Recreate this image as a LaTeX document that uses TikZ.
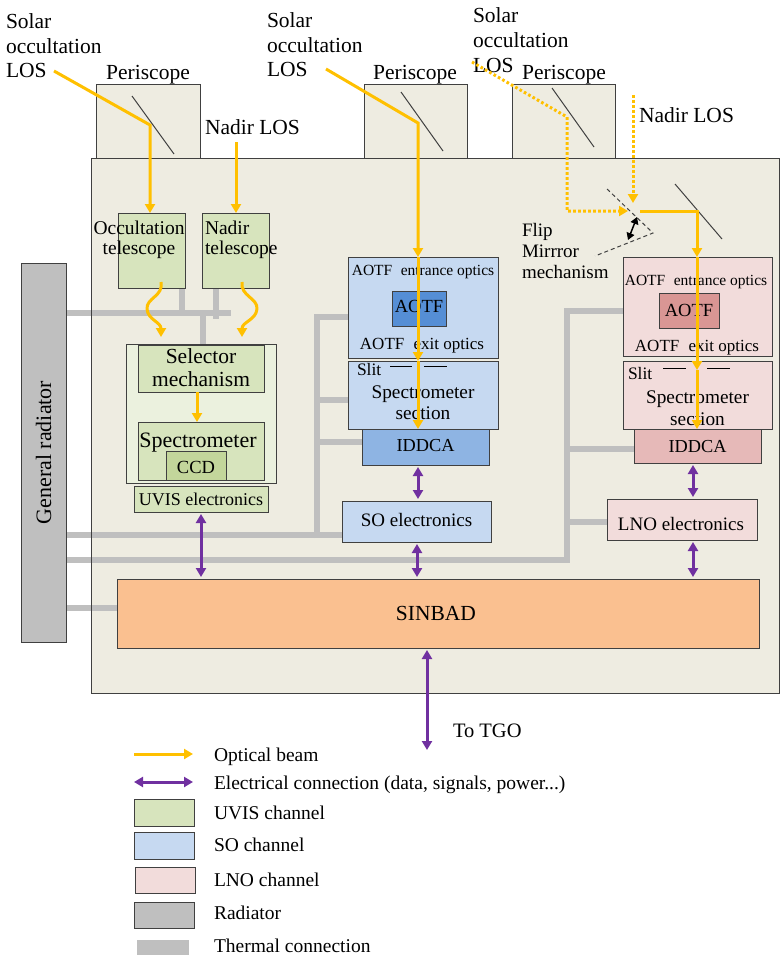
\documentclass[tikz,border=0pt]{standalone}
\usepackage{fontspec}
\setmainfont{Liberation Serif}
\usetikzlibrary{arrows.meta,calc}
\pgfdeclarelayer{back}
\pgfdeclarelayer{therm}
\pgfsetlayers{back,therm,main}
\definecolor{bgc}{HTML}{EEECE1}
\definecolor{uvisc}{HTML}{D7E4BD}
\definecolor{uvisl}{HTML}{EBF1DE}
\definecolor{uvisd}{HTML}{C3D69B}
\definecolor{soc}{HTML}{C6D9F1}
\definecolor{sod}{HTML}{558ED5}
\definecolor{som}{HTML}{8EB4E3}
\definecolor{lnoc}{HTML}{F2DCDB}
\definecolor{lnod}{HTML}{D99694}
\definecolor{lnom}{HTML}{E6B9B8}
\definecolor{sinc}{HTML}{FAC090}
\definecolor{radc}{HTML}{BFBFBF}
\definecolor{optc}{HTML}{FFC000}
\definecolor{elc}{HTML}{7030A0}
\definecolor{edgec}{HTML}{404040}
\newcommand\mylines[2][l]{\begin{tabular}[t]{@{}#1@{}}#2\end{tabular}}
\begin{document}
\begin{tikzpicture}[x=1pt,y=-1pt,
  box/.style={draw=edgec, line width=0.9pt, anchor=north west, inner sep=0pt, outer sep=0pt},
  txt/.style={inner sep=0pt, outer sep=0pt, text=black},
  fs/.style 2 args={font=\fontsize{#1}{#2}\selectfont},
  thermal/.style={draw=radc, line width=6.5pt, line join=miter},
  beam/.style={draw=optc, line width=3pt, line join=miter, -{Triangle[width=10pt,length=9pt]}},
  dbeam/.style={beam, dash pattern=on 2.6pt off 2.4pt},
  elec/.style={draw=elc, line width=3pt, {Triangle[width=10pt,length=9pt]}-{Triangle[width=10pt,length=9pt]}, shorten <=2pt, shorten >=2pt},
  mirror/.style={draw=edgec, line width=1pt},
  fdash/.style={draw=edgec, line width=1pt, dash pattern=on 4pt off 3pt},
  slitline/.style={draw=black, line width=1pt}
]
\useasboundingbox (0,0) rectangle (780,955);

% ---------- background layer: periscopes and instrument body ----------
\begin{pgfonlayer}{back}
\node[box, fill=bgc, minimum width=104, minimum height=75] (per1) at (96,84) {};
\node[box, fill=bgc, minimum width=103, minimum height=75] (per2) at (364,84) {};
\node[box, fill=bgc, minimum width=103, minimum height=75] (per3) at (512,84) {};
\node[box, draw=none, fill=bgc, minimum width=688.5, minimum height=535] (main) at (91,158) {};
\end{pgfonlayer}
\draw[edgec, line width=0.9pt] (main.north west) rectangle (main.south east);

% ---------- radiator ----------
\node[box, fill=radc, minimum width=45, minimum height=379] (rad) at (21,263) {};
\node[txt, fs={22}{25}, rotate=90] (radtxt) at (rad.center) {General radiator};

% ---------- UVIS ----------
\node[box, fill=uvisc, minimum width=67, minimum height=75] (occ) at (118,213) {};
\node[box, fill=uvisc, minimum width=67, minimum height=75] (nad) at (202,213) {};
\node[box, fill=uvisl, minimum width=150, minimum height=139] (uvis) at (126,344) {};
\node[box, fill=uvisc, minimum width=126, minimum height=47] (sel) at (138,345) {};
\node[box, fill=uvisc, minimum width=126, minimum height=58] (uspec) at (138,422) {};
\node[box, fill=uvisd, minimum width=60, minimum height=29] (ccd) at (166,451) {};
\node[box, fill=uvisc, minimum width=134, minimum height=26] (uvel) at (134,486) {};

% ---------- SO ----------
\node[box, fill=soc, minimum width=150, minimum height=101] (soaotf) at (348,257) {};
\node[box, fill=sod, minimum width=54, minimum height=35] (soaotfin) at (392,291) {};
\node[box, fill=soc, minimum width=150, minimum height=68] (sospec) at (348,361) {};
\node[box, fill=som, minimum width=127, minimum height=36] (soidd) at (362,429) {};
\node[box, fill=soc, minimum width=149, minimum height=41] (soel) at (342,501) {};

% ---------- LNO ----------
\node[box, fill=lnoc, minimum width=149, minimum height=99] (lnoaotf) at (623,257) {};
\node[box, fill=lnod, minimum width=60, minimum height=35] (lnoaotfin) at (659,293) {};
\node[box, fill=lnoc, minimum width=149, minimum height=68] (lnospec) at (623,361) {};
\node[box, fill=lnom, minimum width=127, minimum height=34] (lnoidd) at (634,429) {};
\node[box, fill=lnoc, minimum width=150, minimum height=41] (lnoel) at (607,499) {};

% ---------- SINBAD ----------
\node[box, fill=sinc, minimum width=642, minimum height=69] (sinbad) at (117,579) {};

% ---------- thermal connections ----------
\begin{pgfonlayer}{therm}
\draw[thermal] (rad.east |- 0,313) -- (231,313);
\draw[thermal] (occ.south -| 182,0) -- (182,316);
\draw[thermal] (nad.south -| 216,0) -- (216,319);
\draw[thermal] (203,313) -- (uvis.north -| 203,0);
\draw[thermal] (rad.east |- 0,535) -- (soel.west |- 0,535);
\draw[thermal] (317,538) -- (317,317) -- (soaotf.west |- 0,317);
\draw[thermal] (317,400) -- (sospec.west |- 0,400);
\draw[thermal] (317,442) -- (soidd.west |- 0,442);
\draw[thermal] (rad.east |- 0,560) -- (567,560) -- (567,311) -- (lnoaotf.west |- 0,311);
\draw[thermal] (567,449) -- (lnoidd.west |- 0,449);
\draw[thermal] (567,522) -- (lnoel.west |- 0,522);
\draw[thermal] (rad.east |- 0,608) -- (sinbad.west |- 0,608);
\end{pgfonlayer}

% ---------- mirrors ----------
\draw[mirror] (132,96) -- (174,154);
\draw[mirror] (401,92) -- (443,151);
\draw[mirror] (552,88) -- (594,147);
\draw[mirror] (675,184) -- (722,239);
\draw[fdash] (607,189) -- (653,233) -- (595,256);
\draw[draw=black, line width=1.5pt, {Triangle[width=8pt,length=7pt]}-{Triangle[width=8pt,length=7pt]}] (637,217) -- (628,240);

% ---------- slits ----------
\draw[slitline] (390,366) -- (412,366);
\draw[slitline] (424,366) -- (447,366);
\draw[slitline] (663,368) -- (686,368);
\draw[slitline] (707,368) -- (730,368);

% ---------- texts ----------
\node[txt, fs={21.5}{24.5}, anchor=base west] (sol1) at (6,29) {\mylines{Solar\\occultation\\LOS}};
\node[txt, fs={21.5}{24.5}, anchor=base west] (sol2) at (267,28) {\mylines{Solar\\occultation\\LOS}};
\node[txt, fs={21.5}{25}, anchor=base west] (sol3) at (473,23) {\mylines{Solar\\occultation\\LOS}};
\node[txt, fs={21.5}{24}, anchor=base] (pt1) at (148,80) {Periscope};
\node[txt, fs={21.5}{24}, anchor=base] (pt2) at (415,80) {Periscope};
\node[txt, fs={21.5}{24}, anchor=base] (pt3) at (564,80) {Periscope};
\node[txt, fs={21.5}{24}, anchor=base west] (nl1) at (205,135) {Nadir LOS};
\node[txt, fs={21.5}{24}, anchor=base west] (nl2) at (639,122) {Nadir LOS};
\node[txt, fs={19}{21}, anchor=base west] (flip) at (522,236) {\mylines{Flip\\Mirrror\\mechanism}};

\node[txt, fs={19.5}{20}, anchor=base] (occt) at (139,234) {\mylines[c]{Occultation\\telescope}};
\node[txt, fs={19.5}{20}, anchor=base west] (nadt) at (205,234) {\mylines{Nadir\\telescope}};
\node[txt, fs={21.5}{23}, anchor=base] (selt) at (201,363) {\mylines[c]{Selector\\mechanism}};
\node[txt, fs={22}{24}, anchor=base] (uspect) at (198,447) {Spectrometer};
\node[txt, fs={18.5}{20}, anchor=base] (ccdt) at (196,473) {CCD};
\node[txt, fs={18}{20}, anchor=base] (uvelt) at (201,505) {UVIS electronics};

\node[txt, fs={15.5}{18}, anchor=base] (soent) at (423,275) {AOTF\hspace{0.3em} entrance optics};
\node[txt, fs={18.5}{20}, anchor=base] (soaotft) at (419,312) {AOTF};
\node[txt, fs={17}{19}, anchor=base] (soext) at (422,349) {AOTF\hspace{0.3em} exit optics};
\node[txt, fs={17.5}{19}, anchor=base west] (soslit) at (357,375) {Slit};
\node[txt, fs={19.3}{21}, anchor=base] (sospect) at (423,398) {\mylines[c]{Spectrometer\\section}};
\node[txt, fs={18.3}{20}, anchor=base] (soiddt) at (425.5,451) {IDDCA};
\node[txt, fs={19}{21}, anchor=base] (soelt) at (416.5,526) {SO electronics};

\node[txt, fs={15.5}{18}, anchor=base] (lnoent) at (696,285) {AOTF\hspace{0.3em} entrance optics};
\node[txt, fs={18.5}{20}, anchor=base] (lnoaotft) at (689,316) {AOTF};
\node[txt, fs={17}{19}, anchor=base] (lnoext) at (697,351) {AOTF\hspace{0.3em} exit optics};
\node[txt, fs={17.5}{19}, anchor=base west] (lnoslit) at (628,379) {Slit};
\node[txt, fs={19.3}{22}, anchor=base] (lnospect) at (697.5,403) {\mylines[c]{Spectrometer\\section}};
\node[txt, fs={18.3}{20}, anchor=base] (lnoiddt) at (697.5,452) {IDDCA};
\node[txt, fs={19}{21}, anchor=base] (lnoelt) at (681,530) {LNO electronics};

\node[txt, fs={21.5}{24}, anchor=base] (sinbadt) at (436,620) {SINBAD};
\node[txt, fs={20.5}{24}, anchor=base west] (tgot) at (453,737) {To TGO};

% ---------- optical beams ----------
\coordinate (s1) at (54,71);
\coordinate (m1) at (150,125);
\draw[beam] (s1) -- (m1) -- (m1 |- occ.north);
\coordinate (n1) at (236,142);
\draw[beam] (n1) -- (n1 |- nad.north);
\coordinate (w1a) at (161,282);
\coordinate (w1b) at (161,337);
\draw[beam, line join=round] (w1a) .. controls (164,296) and (146,298) .. (147,309) .. controls (148,320) and (161,322) .. (w1b);
\coordinate (w2a) at (242,282);
\coordinate (w2b) at (242,337);
\draw[beam, line join=round] (w2a) .. controls (240,296) and (258,298) .. (257,309) .. controls (256,320) and (242,322) .. (w2b);
\draw[beam] (sel.south -| 197,0) -- (uspec.north -| 197,0);

\coordinate (s2) at (326,69);
\coordinate (m2) at (418,123);
\draw[beam] (s2) -- (m2) -- (m2 |- soaotf.north);
\draw[beam] (m2 |- soaotf.north) -- (m2 |- sospec.north);
\draw[beam] (m2 |- sospec.north) -- (m2 |- soidd.north);

\coordinate (s3) at (472,62);
\coordinate (m3) at (567,117);
\coordinate (f3) at (567,211);
\coordinate (fm) at (628,211);
\draw[dbeam] (s3) -- (m3) -- (f3) -- (fm);
\coordinate (n3) at (633,95);
\coordinate (n3e) at (633,203);
\draw[dbeam] (n3) -- (n3e);
\coordinate (ml) at (640,211);
\coordinate (m4) at (697,211);
\coordinate (lslit) at (697,370);
\draw[beam] (ml) -- (m4) -- (m4 |- lnoaotf.north);
\draw[beam] (m4 |- lnoaotf.north) -- (lslit);
\draw[beam] (lslit) -- (m4 |- lnoidd.north);

% ---------- electrical connections ----------
\draw[elec] (uvel.south) -- (uvel.south |- sinbad.north);
\draw[elec] (m2 |- soidd.south) -- (m2 |- soel.north);
\draw[elec] ([xshift=-1pt]m2 |- soel.south) -- ([xshift=-1pt]m2 |- sinbad.north);
\coordinate (m5) at (693,0);
\draw[elec] (lnoidd.south -| m5) -- (lnoel.north -| m5);
\draw[elec] (lnoel.south -| m5) -- (sinbad.north -| m5);
\coordinate (tgo) at (427,752);
\draw[elec] (sinbad.south -| tgo) -- (tgo);

% ---------- legend ----------
\coordinate (lo1) at (134,754);
\coordinate (lo2) at (193,754);
\draw[beam] (lo1) -- (lo2);
\coordinate (le1) at (134,782);
\coordinate (le2) at (193,782);
\draw[elec, shorten <=0pt, shorten >=0pt] (le1) -- (le2);
\node[box, fill=uvisc, minimum width=60, minimum height=27] (lg1) at (134,799) {};
\node[box, fill=soc, minimum width=60, minimum height=27] (lg2) at (134,832) {};
\node[box, fill=lnoc, minimum width=60, minimum height=26] (lg3) at (135,867) {};
\node[box, fill=radc, minimum width=60, minimum height=26] (lg4) at (134,902) {};
\node[box, draw=none, fill=radc, minimum width=52, minimum height=15] (lg5) at (137,940) {};
\node[txt, fs={19.5}{22}, anchor=base west] (lt1) at (214,761) {Optical beam};
\node[txt, fs={19.5}{22}, anchor=base west] (lt2) at (214,789) {Electrical connection (data, signals, power...)};
\node[txt, fs={19.5}{22}, anchor=base west] (lt3) at (214,819) {UVIS channel};
\node[txt, fs={19.5}{22}, anchor=base west] (lt4) at (214,851) {SO channel};
\node[txt, fs={19.5}{22}, anchor=base west] (lt5) at (214,886) {LNO channel};
\node[txt, fs={19.5}{22}, anchor=base west] (lt6) at (214,919) {Radiator};
\node[txt, fs={19.5}{22}, anchor=base west] (lt7) at (214,952) {Thermal connection};
\end{tikzpicture}
\end{document}
